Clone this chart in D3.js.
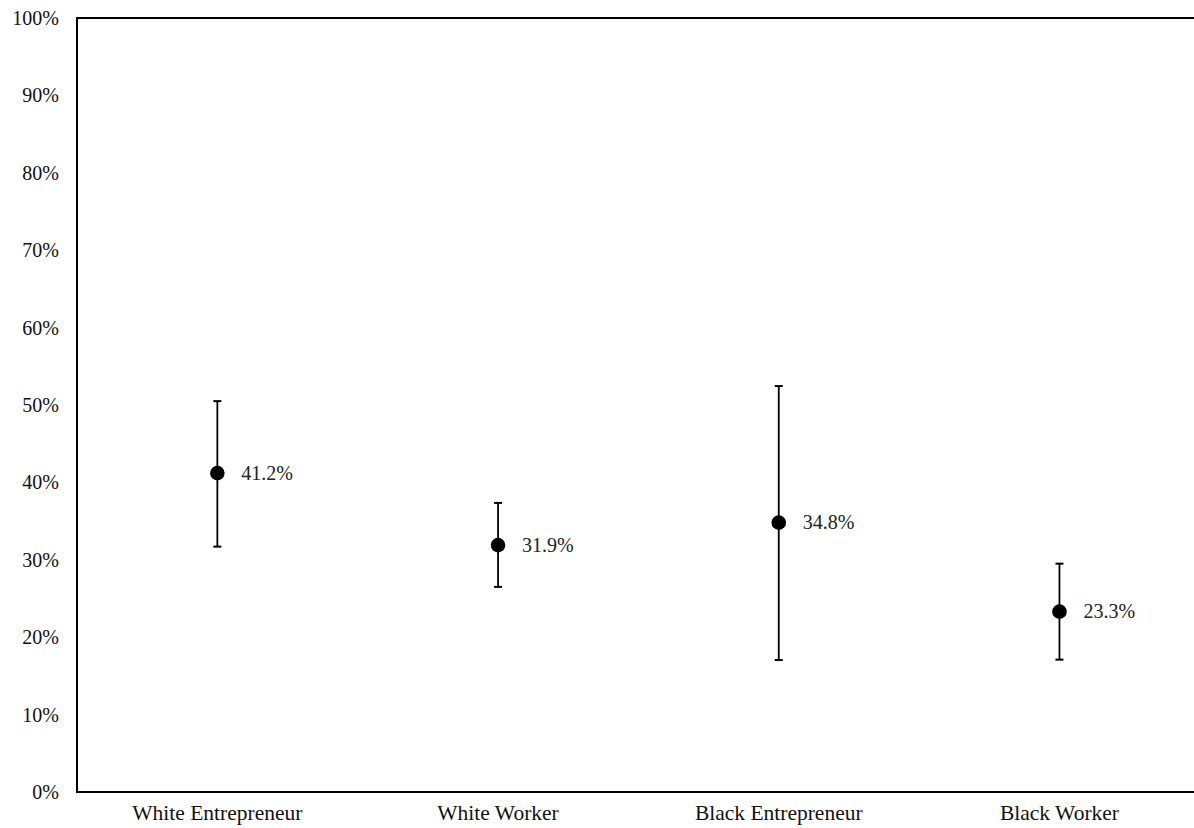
<!DOCTYPE html>
<html lang="en">
<head>
    <meta charset="UTF-8">
    <title>Estimates with intervals</title>
    <script src="https://d3js.org/d3.v7.min.js"></script>
    <style>
        body { margin: 0; background: #fff; }
        text { font-family: 'Liberation Serif', 'Times New Roman', serif; }
    </style>
</head>
<body>
    <div id="chart"></div>
    <script>
        // values
        const categories = ["White Entrepreneur", "White Worker", "Black Entrepreneur", "Black Worker"];
        const estimates = [41.2, 31.9, 34.8, 23.3];
        const lowerBounds = [31.7, 26.5, 17.05, 17.1];
        const upperBounds = [50.5, 37.35, 52.45, 29.5];
        const yTicks = [0, 10, 20, 30, 40, 50, 60, 70, 80, 90, 100];

        const W = 1194, H = 828;
        const margin = {top: 18, left: 77, bottom: 36};
        const plotRight = 77 + 4 * 280.7;   // runs past the window edge, as in the original

        const svg = d3.select("#chart")
            .append("svg")
            .attr("width", W)
            .attr("height", H);

        const x = d3.scaleBand()
            .domain(categories)
            .range([margin.left, plotRight])
            .padding(0);

        const y = d3.scaleLinear()
            .domain([0, 100])
            .range([H - margin.bottom, margin.top]);

        // y axis: labels only, no tick marks
        const yAxis = svg.append("g")
            .attr("transform", `translate(${margin.left},0)`)
            .call(d3.axisLeft(y).tickValues(yTicks).tickSize(0).tickPadding(18).tickFormat(d => d + "%"));
        yAxis.select(".domain").remove();
        yAxis.selectAll("text")
            .style("font-size", "20px")
            .attr("fill", "#111");

        // x axis
        const xAxis = svg.append("g")
            .attr("transform", `translate(0,${y(0)})`)
            .call(d3.axisBottom(x).tickSize(0).tickPadding(13));
        xAxis.select(".domain").remove();
        xAxis.selectAll("text")
            .style("font-size", "21.5px")
            .attr("fill", "#111");

        // frame: left, top, bottom
        svg.append("line")
            .attr("x1", margin.left).attr("x2", margin.left)
            .attr("y1", y(100)).attr("y2", y(0))
            .attr("stroke", "#000").attr("stroke-width", 2);
        svg.append("line")
            .attr("x1", margin.left - 1).attr("x2", plotRight)
            .attr("y1", y(100)).attr("y2", y(100))
            .attr("stroke", "#000").attr("stroke-width", 2);
        svg.append("line")
            .attr("x1", margin.left - 1).attr("x2", plotRight)
            .attr("y1", y(0)).attr("y2", y(0))
            .attr("stroke", "#000").attr("stroke-width", 2);

        const rows = categories.map((c, i) => ({
            cat: c, est: estimates[i], lo: lowerBounds[i], hi: upperBounds[i]
        }));
        const cx = d => x(d.cat) + x.bandwidth() / 2;

        const g = svg.append("g");

        // error bars
        g.selectAll(".whisker")
            .data(rows)
            .join("line")
            .attr("class", "whisker")
            .attr("x1", cx).attr("x2", cx)
            .attr("y1", d => y(d.lo)).attr("y2", d => y(d.hi))
            .attr("stroke", "#000").attr("stroke-width", 1.8);

        g.selectAll(".capTop")
            .data(rows)
            .join("line")
            .attr("class", "capTop")
            .attr("x1", d => cx(d) - 4).attr("x2", d => cx(d) + 4)
            .attr("y1", d => y(d.hi)).attr("y2", d => y(d.hi))
            .attr("stroke", "#000").attr("stroke-width", 2);

        g.selectAll(".capBottom")
            .data(rows)
            .join("line")
            .attr("class", "capBottom")
            .attr("x1", d => cx(d) - 4).attr("x2", d => cx(d) + 4)
            .attr("y1", d => y(d.lo)).attr("y2", d => y(d.lo))
            .attr("stroke", "#000").attr("stroke-width", 2);

        // points
        g.selectAll("circle")
            .data(rows)
            .join("circle")
            .attr("cx", cx)
            .attr("cy", d => y(d.est))
            .attr("r", 7.3)
            .attr("fill", "#000");

        // value labels
        g.selectAll(".value")
            .data(rows)
            .join("text")
            .attr("class", "value")
            .attr("x", d => cx(d) + 24)
            .attr("y", d => y(d.est))
            .attr("dy", "0.33em")
            .style("font-size", "20px")
            .attr("fill", "#222")
            .text(d => d.est.toFixed(1) + "%");
    </script>
</body>
</html>
